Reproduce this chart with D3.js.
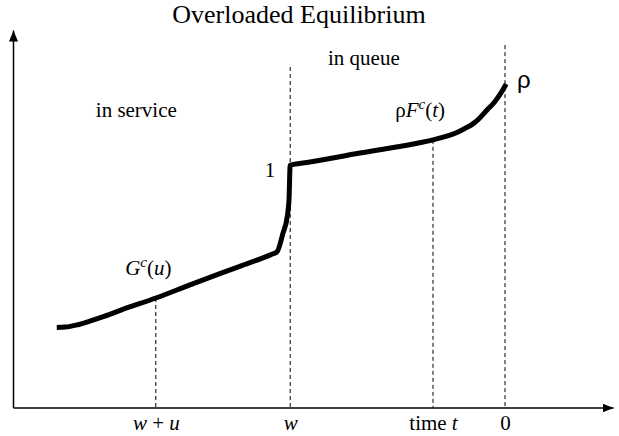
<!DOCTYPE html>
<html>
<head>
<meta charset="utf-8">
<script src="https://cdn.jsdelivr.net/npm/d3@7"></script>
<style>
  body { margin: 0; background: #fff; }
  text { font-family: "Liberation Serif", "Times New Roman", serif; fill: #000; }
</style>
</head>
<body>
<svg id="chart"></svg>
<script>
const width = 619;
const height = 436;

// curve points, in chart units (x: 0..100 along the time axis, y: 0..100)
const curveX = [7.3, 8.7, 10.7, 12.8, 15.3, 18.3, 23.8, 29.5, 37.8, 43.0, 44.0,
                45.0, 45.7, 46.0, 46.2,
                49.0, 57.8, 66.7, 70.0, 72.3, 73.8, 75.3, 76.7, 77.8, 79.0, 80.2, 81.2, 82.2];
const curveY = [21.2, 21.3, 21.9, 22.9, 24.2, 26.0, 29.0, 32.5, 37.4, 40.5, 41.2,
                46.2, 50.5, 55.0, 64.2,
                64.9, 67.4, 69.8, 70.9, 71.9, 72.7, 73.9, 75.2, 76.7, 78.8, 80.8, 83.0, 85.7];

// dashed guides: where they stand on the axis and how high they reach
const guideX = [23.8, 46.2, 70.0, 82.0];
const guideTop = [29.0, 90.2, 70.9, 96.0];
// tick labels under the axis (i = italic part)
const tickLabels = [
  [{t: "w", i: true}, {t: " + "}, {t: "u", i: true}],
  [{t: "w", i: true}],
  [{t: "time "}, {t: "t", i: true}],
  [{t: "0"}]
];

// annotations inside the plot
const noteText = ["in service", "in queue", "1"];
const noteX = [13.8, 52.5, 43.7];
const noteY = [77.0, 90.7, 61.1];
const noteAnchor = ["start", "start", "end"];

const svg = d3.select("#chart")
  .attr("width", width)
  .attr("height", height);

const x = d3.scaleLinear().domain([0, 100]).range([13, 613]);
const y = d3.scaleLinear().domain([0, 100]).range([407.5, 30]);

// arrow head
svg.append("defs").append("marker")
  .attr("id", "arrow")
  .attr("viewBox", "0 -6 12 12")
  .attr("refX", 11)
  .attr("refY", 0)
  .attr("markerWidth", 12)
  .attr("markerHeight", 12)
  .attr("markerUnits", "userSpaceOnUse")
  .attr("orient", "auto")
  .append("path")
  .attr("d", "M0,-4.5L11,0L0,4.5Z")
  .attr("fill", "#000");

// title
svg.append("text")
  .attr("x", 299)
  .attr("y", 23)
  .attr("text-anchor", "middle")
  .style("font-size", "26px")
  .text("Overloaded Equilibrium");

// dashed guides
svg.selectAll(".guide")
  .data(guideX)
  .enter()
  .append("line")
  .attr("class", "guide")
  .attr("x1", d => x(d))
  .attr("x2", d => x(d))
  .attr("y1", (d, i) => y(guideTop[i]))
  .attr("y2", y(0))
  .attr("stroke", "#000")
  .attr("stroke-width", 1)
  .attr("stroke-dasharray", "4,3");

// axes
const axisX = d3.axisBottom(x).tickValues(guideX).tickSize(0).tickFormat("");
const gx = svg.append("g")
  .attr("transform", `translate(0, ${y(0)})`)
  .call(axisX);
gx.select(".domain")
  .attr("stroke-width", 1.5)
  .attr("marker-end", "url(#arrow)");

gx.selectAll(".tick text")
  .attr("y", 22.5)
  .attr("dy", 0)
  .style("font-family", "'Liberation Serif', serif")
  .style("font-size", "21px")
  .each(function(d, i) {
    const t = d3.select(this);
    tickLabels[i].forEach(p => {
      t.append("tspan")
        .style("font-style", p.i ? "italic" : "normal")
        .text(p.t);
    });
  });

const axisY = d3.axisLeft(y).tickValues([]).tickSizeOuter(0);
const gy = svg.append("g")
  .attr("transform", `translate(${x(0)}, 0)`)
  .call(axisY);
gy.select(".domain")
  .attr("stroke-width", 1.5)
  .attr("marker-end", "url(#arrow)");

// curve
const pts = curveX.map((d, i) => [d, curveY[i]]);
const line = d3.line()
  .x(d => x(d[0]))
  .y(d => y(d[1]))
  .curve(d3.curveMonotoneX);

svg.append("path")
  .datum(pts)
  .attr("d", line)
  .attr("fill", "none")
  .attr("stroke", "#000")
  .attr("stroke-width", 5)
  .attr("stroke-linejoin", "round");

// plain annotations
svg.selectAll(".note")
  .data(noteText)
  .enter()
  .append("text")
  .attr("class", "note")
  .attr("x", (d, i) => x(noteX[i]))
  .attr("y", (d, i) => y(noteY[i]))
  .attr("text-anchor", (d, i) => noteAnchor[i])
  .style("font-size", "21px")
  .text(d => d);

// G^c(u)
const g = svg.append("text")
  .attr("x", x(18.7))
  .attr("y", y(35.1))
  .style("font-size", "21px");
g.append("tspan").style("font-style", "italic").text("G");
g.append("tspan").style("font-style", "italic").style("font-size", "15px").attr("dy", -8).text("c");
g.append("tspan").attr("dy", 8).text("(");
g.append("tspan").style("font-style", "italic").text("u");
g.append("tspan").text(")");

// rho F^c(t)
const f = svg.append("text")
  .attr("x", x(63.7))
  .attr("y", y(77.0))
  .style("font-size", "21px");
f.append("tspan").text("ρ");
f.append("tspan").style("font-style", "italic").text("F");
f.append("tspan").style("font-style", "italic").style("font-size", "15px").attr("dy", -8).text("c");
f.append("tspan").attr("dy", 8).text("(");
f.append("tspan").style("font-style", "italic").text("t");
f.append("tspan").text(")");

// rho at the top end
svg.append("text")
  .attr("x", x(84))
  .attr("y", y(84.6))
  .style("font-family", "'Liberation Sans', Arial, sans-serif")
  .style("font-size", "24px")
  .text("ρ");
</script>
</body>
</html>
